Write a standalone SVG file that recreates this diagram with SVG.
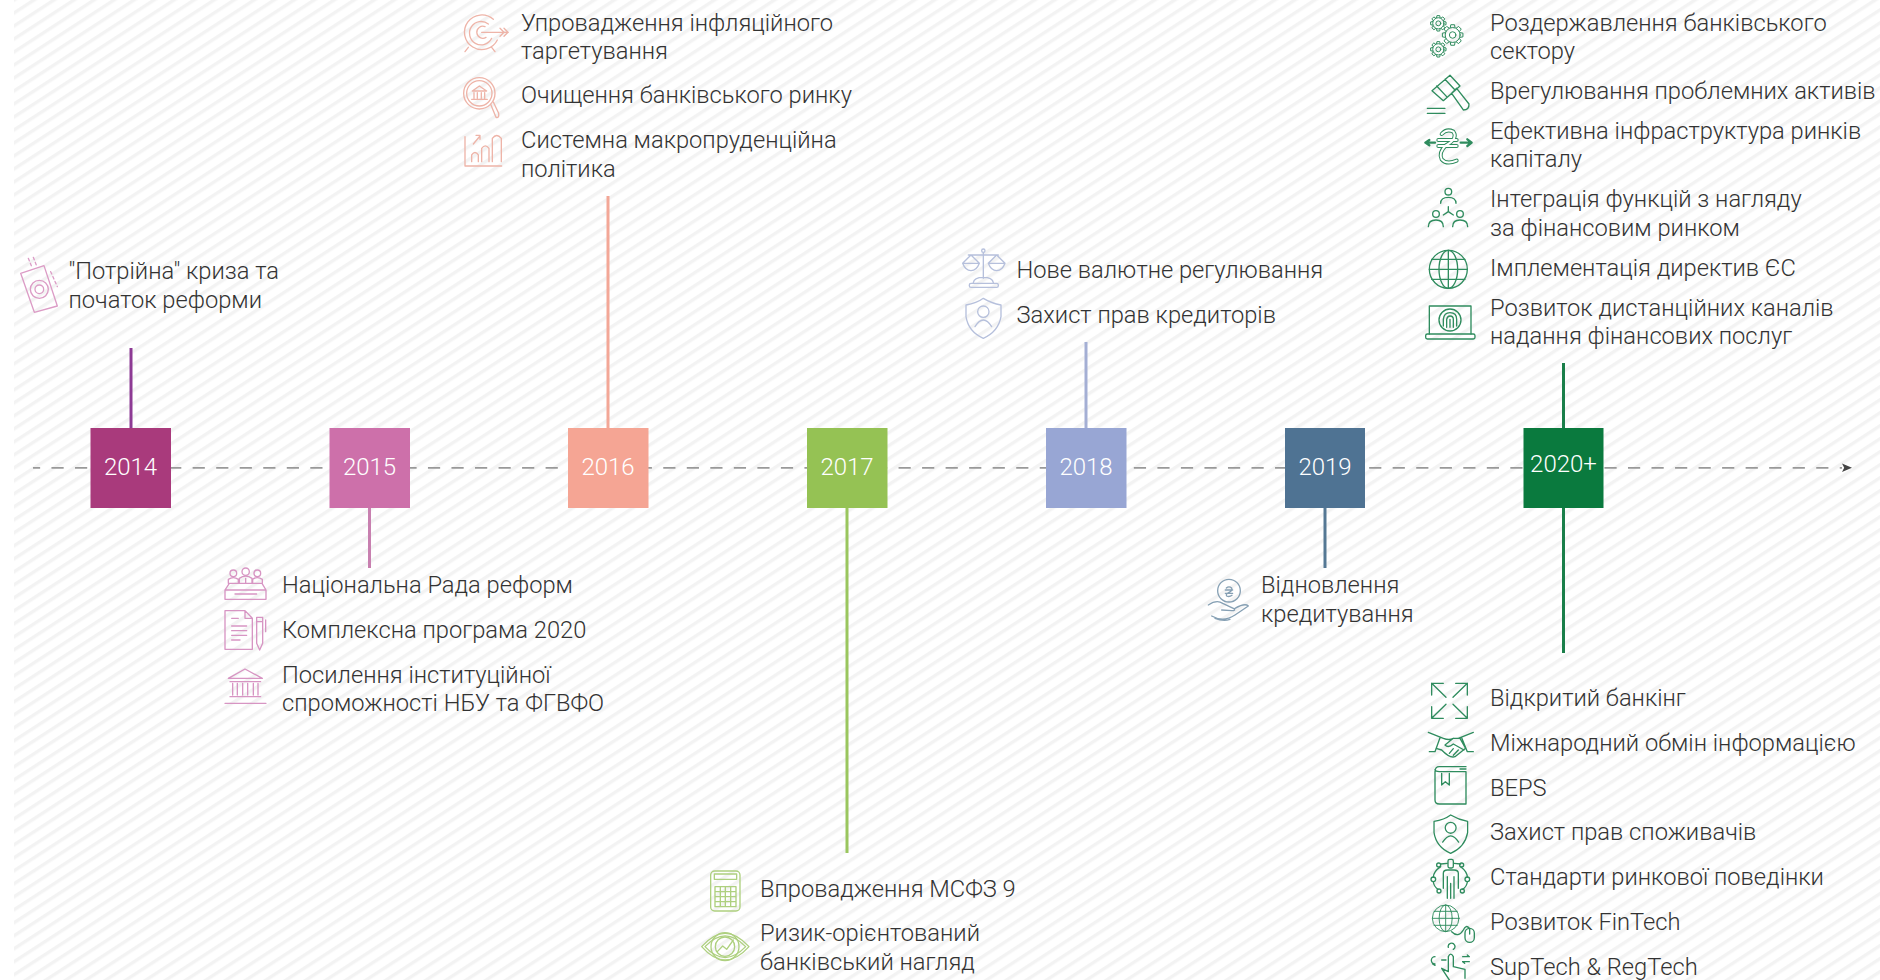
<svg xmlns="http://www.w3.org/2000/svg" xmlns:xlink="http://www.w3.org/1999/xlink" width="1880" height="980" viewBox="0 0 1880 980">
<style>
.t{font-family:Roboto,"Liberation Sans",sans-serif;font-weight:300;font-size:23.7px;fill:#333}
.y{font-family:Roboto,"Liberation Sans",sans-serif;font-weight:300;font-size:24px;fill:#fff;text-anchor:middle}
.ic{fill:none;stroke-width:4;stroke-linecap:round;stroke-linejoin:round}
.c14{stroke:#dc9cc6}.c15{stroke:#d795c3}.c16{stroke:#eeb4a8}.c17{stroke:#aed07f}.c18{stroke:#b6c0dc}.c19{stroke:#86a0b4}.c20{stroke:#2f8c5e}
.k{fill:none;stroke-width:3}
.g *{vector-effect:non-scaling-stroke;stroke-width:1}
</style>
<defs>
<pattern id="hatch" patternUnits="userSpaceOnUse" width="40" height="10.9" patternTransform="rotate(-33)">
<rect y="5.9" width="40" height="3.4" fill="#f3f3f3"/>
</pattern>
<marker id="head" markerUnits="userSpaceOnUse" markerWidth="12" markerHeight="10" refX="0" refY="5" orient="auto"><path d="M0 .8L10 5L0 9.2L2.2 5Z" fill="#444"/></marker>
<g id="shield"><path d="M-52 20Q-20 15 0 0Q25 15 53 20L53 55Q45 100 0 120Q-45 100-52 55Z"/><circle cy="40" r="17"/><path d="M-25 85Q0 45 25 85"/></g>
<g id="globe"><circle r="57"/><ellipse rx="28" ry="57"/><path d="M0-57V57M-57 0H57M-50-30H50M-50 30H50"/></g>
<g id="gear" class="g"><circle r="16"/><circle r="7"/><path d="M-5-16L-4-22H4L5-16"/><path d="M-5-16L-4-22H4L5-16" transform="rotate(45)"/><path d="M-5-16L-4-22H4L5-16" transform="rotate(90)"/><path d="M-5-16L-4-22H4L5-16" transform="rotate(135)"/><path d="M-5-16L-4-22H4L5-16" transform="rotate(180)"/><path d="M-5-16L-4-22H4L5-16" transform="rotate(225)"/><path d="M-5-16L-4-22H4L5-16" transform="rotate(270)"/><path d="M-5-16L-4-22H4L5-16" transform="rotate(315)"/></g>
</defs>
<rect width="1880" height="980" fill="#fff"/>
<rect x="14" width="1866" height="980" fill="url(#hatch)"/>

<g id="connectors" fill="none">
<path d="M33 467.8H1842" stroke="#999" stroke-width="1.8" stroke-dasharray="12.2 11.33" stroke-dashoffset="5.06" marker-end="url(#head)"/>
<path d="M131 348V428" stroke="#8d3a94" class="k"/>
<path d="M369.5 508V568" stroke="#c880b0" class="k"/>
<path d="M608 196V428" stroke="#f3a797" class="k"/>
<path d="M847 508V853" stroke="#9ac65e" class="k"/>
<path d="M1086 342V428" stroke="#a4afd4" class="k"/>
<path d="M1325 508V568" stroke="#557894" class="k"/>
<path d="M1563.5 363V428M1563.5 508V653" stroke="#1a7f4a" class="k"/>
</g>

<g id="y2014"><rect x="90.5" y="428" width="80.5" height="80" fill="#a93a7c"/><text class="y" x="130.5" y="475">2014</text></g>
<g id="y2015"><rect x="329.5" y="428" width="80.5" height="80" fill="#cd70aa"/><text class="y" x="369.5" y="475">2015</text></g>
<g id="y2016"><rect x="568" y="428" width="80.5" height="80" fill="#f5a594"/><text class="y" x="608" y="475">2016</text></g>
<g id="y2017"><rect x="807" y="428" width="80.5" height="80" fill="#95c254"/><text class="y" x="847" y="475">2017</text></g>
<g id="y2018"><rect x="1046" y="428" width="80.5" height="80" fill="#98a6d4"/><text class="y" x="1086" y="475">2018</text></g>
<g id="y2019"><rect x="1285" y="428" width="80" height="80" fill="#4f7393"/><text class="y" x="1325" y="475">2019</text></g>
<g id="y2020"><rect x="1523.5" y="428" width="80" height="80" fill="#0a7a3e"/><text class="y" x="1563.5" y="472">2020+</text></g>

<g id="i2014">
<g class="ic c14" transform="translate(0 230) scale(.3333)"><path d="M62 130L132 107L172 228L103 247Z"/><circle cx="118" cy="178" r="27"/><circle cx="118" cy="178" r="13"/><path d="M85 85L96 112M100 82L110 108M152 125L172 170" stroke-dasharray="8 8"/></g>
<text class="t" x="68.5" y="279">"Потрійна" криза та</text><text class="t" x="68.5" y="307.5">початок реформи</text>
</g>

<g id="i2015a">
<g class="ic c15" transform="translate(200 540) scale(.3333)"><circle cx="100" cy="100" r="10"/><circle cx="137" cy="95" r="11"/><circle cx="172" cy="100" r="10"/><path d="M85 130V118Q100 108 115 118V130M118 130V115Q137 102 156 115V130M158 130V118Q172 108 187 118V130M137 115V130M88 130H186L198 150V178H75V150ZM75 150H198M105 162H170"/></g>
<text class="t" x="282" y="592.7">Національна Рада реформ</text>
</g>
<g id="i2015b">
<g class="ic c15" transform="translate(200 540) scale(.3333)"><path d="M75 212H135L157 235V328H75ZM135 212V235H157M95 235H115M95 258H140M95 272H140M95 286H140M95 300H120"/><path d="M170 232H188V310L179 330L170 310ZM170 245H188M197 240V275"/></g>
<text class="t" x="282" y="638">Комплексна програма 2020</text>
</g>
<g id="i2015c">
<g class="ic c15" transform="translate(200 540) scale(.3333)"><path d="M85 415L135 387L187 415ZM90 425H182M98 430V465M112 430V465M128 430V465M143 430V465M160 430V465M174 430V465M90 470H182M75 490H198"/></g>
<text class="t" x="282" y="683">Посилення інституційної</text><text class="t" x="282" y="711">спроможності НБУ та ФГВФО</text>
</g>

<g id="i2016a">
<g class="ic c16" transform="translate(440 0) scale(.3333)"><path d="M160 58A52 52 0 1 0 172 120M145 72A35 35 0 1 0 155 115M135 80A18 18 0 1 0 138 112M125 97H205M180 85L192 97L180 109M192 85L204 97L192 109M75 155L85 142M165 155L155 142"/></g>
<text class="t" x="521" y="31">Упровадження інфляційного</text><text class="t" x="521" y="58.5">таргетування</text>
</g>
<g id="i2016b">
<g class="ic c16" transform="translate(440 0) scale(.3333)"><circle cx="118" cy="280" r="47"/><circle cx="118" cy="280" r="38"/><path d="M152 313L168 352Q178 355 176 340L160 306M97 273L118 258L140 273ZM102 278V295M112 278V295M124 278V295M134 278V295M95 298H142"/></g>
<text class="t" x="521" y="103">Очищення банківського ринку</text>
</g>
<g id="i2016c">
<g class="ic c16" transform="translate(440 0) scale(.3333)"><path d="M75 410V498H185M95 485V465Q105 450 115 465V485M125 485V445Q136 430 147 445V485M157 485V415Q170 398 184 415V485M100 432L120 408M108 406H120V418"/></g>
<text class="t" x="521" y="148">Системна макропруденційна</text><text class="t" x="521" y="176.5">політика</text>
</g>

<g id="i2017a">
<g class="ic c17" transform="translate(680 840) scale(.3333)"><rect x="92" y="93" width="88" height="120" rx="12"/><rect x="103" y="102" width="67" height="16"/><path d="M105 140H168V200H105ZM105 155H168M105 170H168M105 185H168M121 140V200M136 140V200M152 140V200"/></g>
<text class="t" x="760" y="897">Впровадження МСФЗ 9</text>
</g>
<g id="i2017b">
<g class="ic c17" transform="translate(680 840) scale(.3333)"><path d="M65 320Q135 240 207 320Q135 400 65 320ZM75 320Q135 255 197 320Q135 385 75 320Z"/><circle cx="135" cy="320" r="42"/><circle cx="135" cy="320" r="29"/><path d="M112 335L128 318L140 328L160 300"/></g>
<text class="t" x="760" y="941">Ризик-орієнтований</text><text class="t" x="760" y="970">банківський нагляд</text>
</g>

<g id="i2018a">
<g class="ic c18" transform="translate(940 230) scale(.3333)"><circle cx="130" cy="62" r="5"/><path d="M130 68V145M85 75H175M68 100H118Q110 122 93 122Q76 122 68 100ZM93 75L68 100M93 75L118 100M145 100H195Q187 122 170 122Q153 122 145 100ZM170 75L145 100M170 75L195 100M100 158Q102 142 130 142Q158 142 160 158"/><rect x="88" y="160" width="87" height="12" rx="5"/></g>
<text class="t" x="1016.5" y="277.5">Нове валютне регулювання</text>
</g>
<g id="i2018b">
<g class="ic c18" transform="translate(940 230) scale(.3333)"><use xlink:href="#shield" href="#shield" transform="translate(130 205)"/></g>
<text class="t" x="1016.5" y="322.5">Захист прав кредиторів</text>
</g>

<g id="i2019">
<g class="ic c19" transform="translate(1180 540) scale(.3333)"><circle cx="147" cy="152" r="34"/><path d="M139 144Q147 137 155 144Q158 152 147 157Q136 162 140 168Q148 172 156 166M136 150H158M136 160H158M85 195Q110 178 128 190L160 205Q170 212 155 212L125 210M95 228Q130 248 165 225L205 198Q195 188 165 205M105 235Q130 245 150 238"/></g>
<text class="t" x="1261" y="592.5">Відновлення</text><text class="t" x="1261" y="621.5">кредитування</text>
</g>

<g id="i2020a">
<g class="ic c20" transform="translate(1410 0) scale(.3333)"><use xlink:href="#gear" href="#gear" transform="translate(85 70) scale(1.05)"/><use xlink:href="#gear" href="#gear" transform="translate(128 105) scale(1.4)"/><use xlink:href="#gear" href="#gear" transform="translate(85 148) scale(1.05)"/></g>
<text class="t" x="1490" y="30.5">Роздержавлення банківського</text><text class="t" x="1490" y="59">сектору</text>
</g>
<g id="i2020b">
<g class="ic c20" transform="translate(1410 0) scale(.3333)"><path d="M66 272L120 226L150 258L100 302ZM80 258L110 290M105 238L135 270M125 280L140 265L177 312Q178 330 160 330ZM52 325H105M52 340H105"/></g>
<text class="t" x="1490" y="99">Врегулювання проблемних активів</text>
</g>
<g id="i2020c">
<g class="ic c20" transform="translate(1410 0) scale(.3333)"><path d="M47 428H75M58 420L46 428L58 436M152 428H185M172 418L185 428L172 438" stroke-width="7"/><path d="M95 402Q110 385 130 395Q145 415 108 436Q85 458 95 478Q110 495 140 482M85 420H140M85 438H140" stroke-width="12"/><path d="M95 402Q110 385 130 395Q145 415 108 436Q85 458 95 478Q110 495 140 482M85 420H140M85 438H140" stroke="#fff" stroke-width="6"/></g>
<text class="t" x="1490" y="138.5">Ефективна інфраструктура ринків</text><text class="t" x="1490" y="167">капіталу</text>
</g>
<g id="i2020d">
<g class="ic c20" transform="translate(1410 170) scale(.3333)"><circle cx="115" cy="65" r="10"/><path d="M92 100Q92 82 115 82Q138 82 138 100"/><circle cx="78" cy="132" r="10"/><path d="M55 170Q55 150 78 150Q100 150 100 170"/><circle cx="150" cy="132" r="10"/><path d="M128 170Q128 150 150 150Q173 150 173 170M115 110V125M115 125L100 135M115 125L130 135"/></g>
<text class="t" x="1490" y="207">Інтеграція функцій з нагляду</text><text class="t" x="1490" y="236">за фінансовим ринком</text>
</g>
<g id="i2020e">
<g class="ic c20" transform="translate(1410 170) scale(.3333)"><use xlink:href="#globe" href="#globe" transform="translate(115 298)"/></g>
<text class="t" x="1490" y="275.5">Імплементація директив ЄС</text>
</g>
<g id="i2020f">
<g class="ic c20" transform="translate(1410 170) scale(.3333)"><path d="M58 492V408H183V492"/><rect x="47" y="492" width="148" height="15" rx="5"/><circle cx="120" cy="450" r="33"/><path d="M100 468V448Q102 428 120 428Q140 428 140 448V468M110 472V448Q112 438 120 438Q130 438 130 448V472M120 448V472"/></g>
<text class="t" x="1490" y="316">Розвиток дистанційних каналів</text><text class="t" x="1490" y="343.5">надання фінансових послуг</text>
</g>

<g id="i2020g">
<g class="ic c20" transform="translate(1410 670) scale(.3333)"><path d="M65 75V40H100M65 40L108 82M172 75V40H137M172 40L129 82M65 110V145H100M65 145L108 103M172 110V145H137M172 145L129 103"/></g>
<text class="t" x="1490" y="706">Відкритий банкінг</text>
</g>
<g id="i2020h">
<g class="ic c20" transform="translate(1410 670) scale(.3333)"><path d="M55 187L100 205M90 203L75 245L58 245M190 187L145 205M155 203L172 245H190M100 205Q118 212 130 205H150L167 235L135 260Q120 266 95 240L78 235M130 205L105 225Q115 235 130 222L162 240M118 250L130 236M130 256L145 240"/></g>
<text class="t" x="1490" y="751">Міжнародний обмін інформацією</text>
</g>
<g id="i2020i">
<g class="ic c20" transform="translate(1410 670) scale(.3333)"><path d="M168 290H88Q75 290 75 305V390Q75 402 88 402H168V305H88Q75 305 75 298M95 310V345L106 335L118 345V310M150 297H168"/></g>
<text class="t" x="1490" y="796">BEPS</text>
</g>
<g id="i2020j">
<g class="ic c20" transform="translate(1410 820) scale(.3333)"><use xlink:href="#shield" href="#shield" transform="translate(122 -15) scale(.96)"/></g>
<text class="t" x="1490" y="840">Захист прав споживачів</text>
</g>
<g id="i2020k">
<g class="ic c20" transform="translate(1410 820) scale(.3333)"><rect x="114" y="118" width="16" height="26" rx="5"/><path d="M100 205V160Q100 150 112 150H132Q145 150 145 160V205M112 170V235M122 190V235M132 170V235M92 140Q70 155 70 172M70 186Q72 200 84 208M152 140Q172 155 172 172M172 186Q170 200 158 208M92 132L112 130M152 132L132 130"/><circle cx="86" cy="135" r="6"/><circle cx="70" cy="178" r="7"/><circle cx="87" cy="213" r="6"/><circle cx="155" cy="135" r="6"/><circle cx="172" cy="178" r="7"/><circle cx="157" cy="213" r="6"/></g>
<text class="t" x="1490" y="885">Стандарти ринкової поведінки</text>
</g>
<g id="i2020l">
<g class="ic c20" transform="translate(1410 820) scale(.3333)"><use xlink:href="#globe" href="#globe" transform="translate(107 295) scale(.7)"/><path d="M125 335Q145 355 160 330Q168 312 178 325"/><rect x="165" y="325" width="28" height="42" rx="14"/><path d="M179 325V342"/></g>
<text class="t" x="1490" y="930">Розвиток FinTech</text>
</g>
<g id="i2020m">
<g class="ic c20" transform="translate(1410 820) scale(.3333)"><path d="M115 382A10 10 0 1 1 130 388M115 455V410Q122 395 130 410V440L165 448V475M115 455L95 445L118 480M75 410A10 10 0 0 0 75 432M75 436L68 432M95 420H108M158 410H178M158 425H178M172 405L178 410M164 430L158 425"/></g>
<text class="t" x="1490" y="975">SupTech &amp; RegTech</text>
</g>
</svg>
